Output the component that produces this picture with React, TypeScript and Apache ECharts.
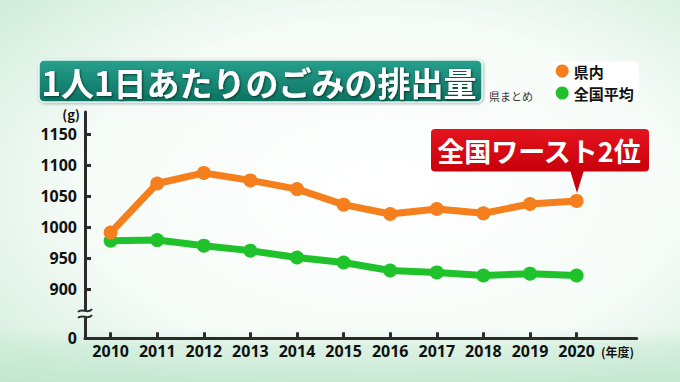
import { useEffect, useRef } from 'react';
import * as echarts from 'echarts';

const years = [2010, 2011, 2012, 2013, 2014, 2015, 2016, 2017, 2018, 2019, 2020];
const prefecture = [991, 1070, 1087, 1075, 1061, 1036, 1021, 1029, 1022, 1037, 1042];
const national = [978, 979, 970, 962, 951, 943, 930, 927, 922, 925, 922];
const yTicks = [900, 950, 1000, 1050, 1100, 1150];
const yBreakValue = 821; // bottom of the broken axis, labelled "0"
const yLabelValues = [yBreakValue, ...yTicks];

const titleText = '1人1日あたりのごみの排出量';
const sourceText = '県まとめ';
const calloutText = '全国ワースト2位';
const seriesNames = ['県内', '全国平均'];

const ORANGE = '#f57f1c';
const GREEN = '#1fc22a';
const AXIS = '#2b2b2b';
const FONT = '"Noto Sans CJK JP", "Noto Sans", sans-serif';

export default function App() {
  const ref = useRef<HTMLDivElement>(null);
  useEffect(() => {
    document.body.style.margin = '0';
    const chart = echarts.init(ref.current!, null, { renderer: 'svg' });
    const option: any = {
      animation: false,
      textStyle: { fontFamily: FONT },
      grid: { left: 85, right: 43.3, top: 112, bottom: 43.7, containLabel: false },
      legend: {
        data: seriesNames,
        orient: 'vertical',
        left: 551.7,
        top: 61.5,
        backgroundColor: '#ffffff',
        padding: [2, 5, 1, 4],
        itemGap: 7,
        itemWidth: 13,
        itemHeight: 13,
        icon: 'circle',
        textStyle: { fontSize: 15, fontWeight: 'bold', color: '#111', lineHeight: 15 },
      },
      xAxis: {
        type: 'value',
        min: 2009.45,
        max: 2021.29,
        splitLine: { show: false },
        axisLine: { show: true, lineStyle: { color: AXIS, width: 3 } },
        axisTick: { show: true, inside: true, length: 6, customValues: years, lineStyle: { color: AXIS, width: 3 } },
        axisLabel: {
          customValues: years,
          formatter: (v: number) => String(v),
          fontSize: 16,
          fontWeight: 'bold',
          color: '#111',
          margin: 5,
          fontFamily: '"Noto Sans", sans-serif',
        },
      },
      yAxis: {
        type: 'value',
        min: yBreakValue,
        max: 1185,
        splitLine: { show: false },
        axisLine: { show: true, lineStyle: { color: AXIS, width: 3 } },
        axisTick: { show: true, inside: true, length: 6, customValues: yTicks, lineStyle: { color: AXIS, width: 3 } },
        axisLabel: {
          customValues: yLabelValues,
          formatter: (v: number) => (v === yBreakValue ? '0' : String(v)),
          fontSize: 16,
          fontWeight: 'bold',
          color: '#111',
          margin: 8,
          fontFamily: '"Noto Sans", sans-serif',
        },
      },
      series: [
        {
          name: seriesNames[1],
          type: 'line',
          data: years.map((y, i) => [y, national[i]]),
          symbol: 'circle',
          symbolSize: 14,
          itemStyle: { color: GREEN },
          lineStyle: { color: GREEN, width: 7, cap: 'round', join: 'round' },
          z: 3,
        },
        {
          name: seriesNames[0],
          type: 'line',
          data: years.map((y, i) => [y, prefecture[i]]),
          symbol: 'circle',
          symbolSize: 14,
          itemStyle: { color: ORANGE },
          lineStyle: { color: ORANGE, width: 7, cap: 'round', join: 'round' },
          z: 4,
        },
      ],
      graphic: [
        {
          type: 'rect',
          z: -10,
          silent: true,
          shape: { x: 0, y: 0, width: 680, height: 382 },
          style: {
            fill: {
              type: 'radial', x: 0.56, y: 0.5, r: 1.0,
              colorStops: [
                { offset: 0, color: '#ffffff' },
                { offset: 0.45, color: '#f5fbf7' },
                { offset: 1, color: '#b2e0c2' },
              ],
            },
          },
        },
        {
          type: 'rect',
          z: -9,
          silent: true,
          shape: { x: 0, y: 330, width: 680, height: 52 },
          style: {
            fill: {
              type: 'linear', x: 0, y: 0, x2: 0, y2: 1,
              colorStops: [
                { offset: 0, color: 'rgba(200,234,212,0)' },
                { offset: 0.3, color: 'rgba(200,234,212,0.55)' },
                { offset: 1, color: 'rgba(190,230,204,0.8)' },
              ],
            },
          },
        },
        // title box
        {
          type: 'rect',
          z: 10,
          shape: { x: 39, y: 60, width: 443, height: 42, r: 5 },
          style: {
            fill: {
              type: 'linear', x: 0, y: 0, x2: 0, y2: 1,
              colorStops: [
                { offset: 0, color: '#27a08d' },
                { offset: 1, color: '#0c7262' },
              ],
            },
            stroke: '#e9f7f1',
            lineWidth: 1.5,
            shadowColor: 'rgba(0,60,40,0.35)',
            shadowBlur: 3,
            shadowOffsetX: 1,
            shadowOffsetY: 1,
          },
        },
        {
          type: 'text',
          z: 11,
          x: 259,
          y: 81.5,
          style: {
            text: titleText,
            fill: '#ffffff',
            fontSize: 33,
            fontWeight: 'bold',
            fontFamily: FONT,
            align: 'center',
            verticalAlign: 'middle',
            textShadowColor: 'rgba(0,40,30,0.8)',
            textShadowBlur: 2,
            textShadowOffsetX: 1,
            textShadowOffsetY: 1,
          },
        },
        {
          type: 'text',
          z: 11,
          x: 489,
          y: 96,
          style: {
            text: sourceText,
            fill: '#333',
            fontSize: 11,
            fontFamily: FONT,
            align: 'left',
            verticalAlign: 'middle',
          },
        },
        // unit labels
        {
          type: 'text',
          z: 11,
          x: 80,
          y: 114,
          style: { text: '(g)', fill: '#111', fontSize: 13, fontWeight: 'bold', fontFamily: FONT, align: 'right', verticalAlign: 'middle' },
        },
        {
          type: 'text',
          z: 11,
          x: 601,
          y: 351,
          style: { text: '(年度)', fill: '#111', fontSize: 12, fontWeight: 'bold', fontFamily: FONT, align: 'left', verticalAlign: 'middle' },
        },
        // axis break
        {
          type: 'rect',
          z: 20,
          shape: { x: 80, y: 310, width: 10, height: 8 },
          style: { fill: '#eaf6ee' },
        },
        {
          type: 'bezierCurve',
          z: 21,
          shape: { x1: 78, y1: 312, cpx1: 82, cpy1: 307, cpx2: 88, cpy2: 315, x2: 92, y2: 309 },
          style: { stroke: AXIS, lineWidth: 2, fill: 'none' },
        },
        {
          type: 'bezierCurve',
          z: 21,
          shape: { x1: 78, y1: 318, cpx1: 82, cpy1: 313, cpx2: 88, cpy2: 321, x2: 92, y2: 315 },
          style: { stroke: AXIS, lineWidth: 2, fill: 'none' },
        },
        // callout
        {
          type: 'rect',
          z: 12,
          shape: { x: 431, y: 129, width: 218, height: 42.5, r: 4 },
          style: {
            fill: {
              type: 'linear', x: 0, y: 0, x2: 0, y2: 1,
              colorStops: [
                { offset: 0, color: '#e4141c' },
                { offset: 1, color: '#c8000c' },
              ],
            },
          },
        },
        {
          type: 'polygon',
          z: 12,
          shape: { points: [[570, 170], [584, 170], [577, 193]] },
          style: { fill: '#c8000c' },
        },
        {
          type: 'text',
          z: 13,
          x: 539,
          y: 150.5,
          style: {
            text: calloutText,
            fill: '#ffffff',
            fontSize: 27,
            fontWeight: 'bold',
            fontFamily: FONT,
            align: 'center',
            verticalAlign: 'middle',
          },
        },
      ],
    };
    chart.setOption(option);
    return () => chart.dispose();
  }, []);
  return <div ref={ref} style={{ position: 'absolute', left: 0, top: 0, width: 680, height: 382 }} />;
}
